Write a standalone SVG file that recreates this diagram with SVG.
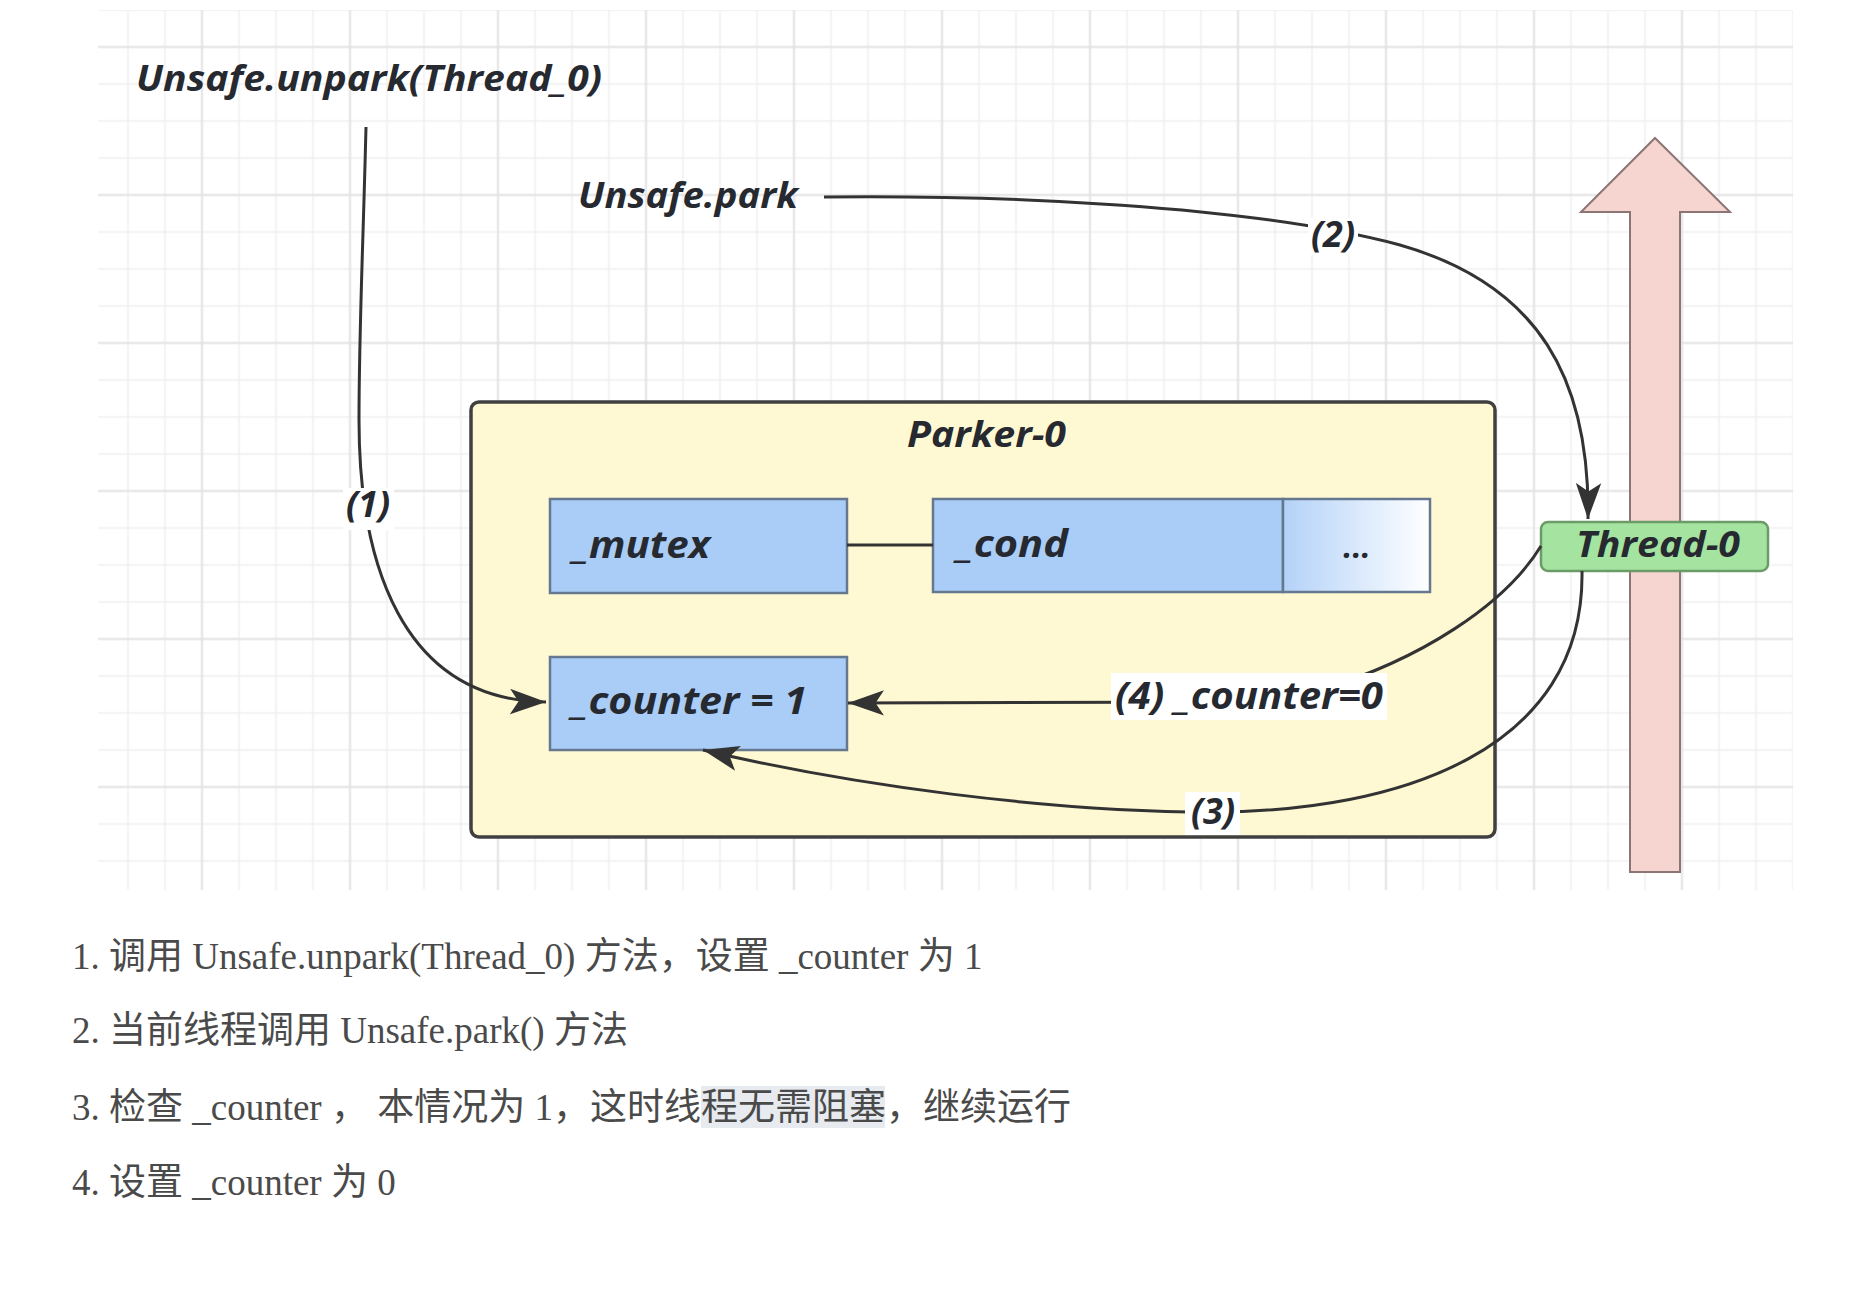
<svg xmlns="http://www.w3.org/2000/svg" width="1860" height="1290" viewBox="0 0 1860 1290">
<defs>
<pattern id="grid" x="-1.5" y="-8.5" width="148" height="148" patternUnits="userSpaceOnUse">
<path d="M18.5 0V148M92.5 0V148M129.5 0V148M0 18.5H148M0 92.5H148M0 129.5H148" stroke="#efefef" stroke-width="1.5" fill="none"/>
<path d="M55.5 0V148M0 55.5H148" stroke="#e2e2e2" stroke-width="2" fill="none"/>
</pattern>
<linearGradient id="fade" x1="0" y1="0" x2="1" y2="0">
<stop offset="0" stop-color="#b3d2f8"/>
<stop offset="1" stop-color="#ffffff"/>
</linearGradient>
<marker id="arr" markerUnits="userSpaceOnUse" markerWidth="36" markerHeight="26" refX="34" refY="12" orient="auto" viewBox="0 0 34 24">
<path d="M0,0 L34,12 L0,24 L8,12 Z" fill="#333"/>
</marker>
<style>
.lbl{font-family:"Open Sans","DejaVu Sans",sans-serif;font-weight:700;font-style:italic;fill:#262a30}
.box{fill:#a9cdf7;stroke:#66788f;stroke-width:2.5}
.edge{fill:none;stroke:#333;stroke-width:3}
.lbg{fill:#ffffff}
.desc{font-family:"Liberation Serif","Noto Sans CJK SC",serif;font-size:37px;fill:#4a4a4a}
</style>
</defs>
<rect width="1860" height="1290" fill="#ffffff"/>
<rect x="98" y="10" width="1695" height="880" fill="url(#grid)"/>

<g id="thread-arrow">
<polygon points="1655,138 1730,212 1680,212 1680,872 1630,872 1630,212 1581,212" fill="#f6d4d0" stroke="#8c7575" stroke-width="2"/>
</g>

<g id="parker">
<rect x="471" y="402" width="1024" height="435" rx="8" fill="#fff9d3" stroke="#404040" stroke-width="3.5"/>
<text class="lbl" x="907" y="447" font-size="36" textLength="159" lengthAdjust="spacingAndGlyphs">Parker-0</text>
</g>

<g id="mutex">
<rect class="box" x="550" y="499" width="297" height="94"/>
<text class="lbl" x="573" y="558" font-size="38" textLength="137" lengthAdjust="spacingAndGlyphs">_mutex</text>
</g>

<g id="cond">
<rect class="box" x="933" y="499" width="350" height="93"/>
<text class="lbl" x="957" y="557" font-size="38" textLength="111" lengthAdjust="spacingAndGlyphs">_cond</text>
</g>

<g id="more">
<rect x="1283" y="499" width="147" height="93" fill="url(#fade)" stroke="#66788f" stroke-width="2.5"/>
<text class="lbl" x="1357" y="558" font-size="32" text-anchor="middle">...</text>
</g>

<g id="counter">
<rect class="box" x="550" y="657" width="297" height="93"/>
<text class="lbl" x="572" y="714" font-size="38" textLength="235" lengthAdjust="spacingAndGlyphs">_counter = 1</text>
</g>

<g id="thread0">
<rect x="1541" y="522" width="227" height="49" rx="7" fill="#a5e3a0" stroke="#6b9b67" stroke-width="2.5"/>
<text class="lbl" x="1576" y="557" font-size="36" textLength="164" lengthAdjust="spacingAndGlyphs">Thread-0</text>
</g>

<g id="unpark">
<text class="lbl" x="136" y="91" font-size="36" textLength="466" lengthAdjust="spacingAndGlyphs">Unsafe.unpark(Thread_0)</text>
</g>

<g id="park">
<text class="lbl" x="578" y="208" font-size="36" textLength="220" lengthAdjust="spacingAndGlyphs">Unsafe.park</text>
</g>

<g id="connectors">
<line class="edge" x1="847" y1="545" x2="933" y2="545"/>
<path class="edge" d="M366 127 C363 250 359 330 359 420 C359 560 400 700 546 702" marker-end="url(#arr)"/>
<path class="edge" d="M824 197 C1000 195 1250 205 1400 245 C1540 285 1590 380 1588 519" marker-end="url(#arr)"/>
<path class="edge" d="M1582 571 C1585 750 1400 812 1212 812 C1050 812 850 785 703 750" marker-end="url(#arr)"/>
<path class="edge" d="M1541 546 C1505 605 1420 660 1320 690 L1250 702 L848 703" marker-end="url(#arr)"/>
</g>

<g id="edge-labels">
<rect class="lbg" x="343" y="488" width="51" height="42"/>
<text class="lbl" x="368" y="517" font-size="36" text-anchor="middle">(1)</text>
<rect class="lbg" x="1308" y="218" width="50" height="37"/>
<text class="lbl" x="1333" y="247" font-size="36" text-anchor="middle">(2)</text>
<rect class="lbg" x="1185" y="792" width="55" height="43"/>
<text class="lbl" x="1213" y="824" font-size="36" text-anchor="middle">(3)</text>
<rect class="lbg" x="1111" y="673" width="276" height="47"/>
<text class="lbl" x="1115" y="709" font-size="38" textLength="268" lengthAdjust="spacingAndGlyphs">(4) _counter=0</text>
</g>

<g id="notes">
<rect x="701" y="1086" width="184" height="42" fill="#e7ebef"/>
<text class="desc" x="72" y="969">1. 调用 Unsafe.unpark(Thread_0) 方法，设置 _counter 为 1</text>
<text class="desc" x="72" y="1043">2. 当前线程调用 Unsafe.park() 方法</text>
<text class="desc" x="72" y="1120">3. 检查 _counter ， 本情况为 1，这时线程无需阻塞，继续运行</text>
<text class="desc" x="72" y="1195">4. 设置 _counter 为 0</text>
</g>
</svg>
